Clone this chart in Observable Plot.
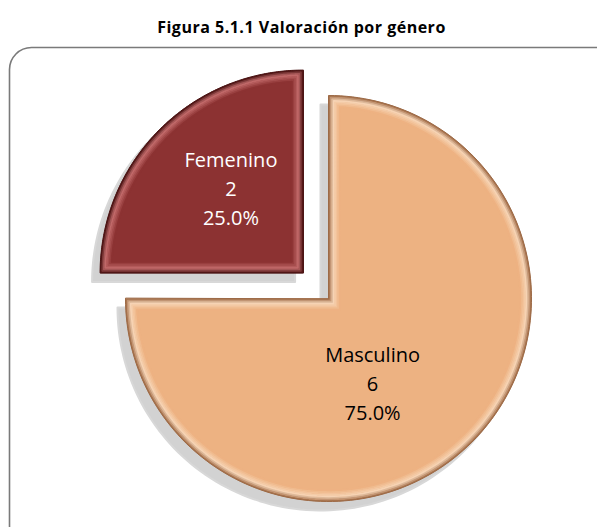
<!DOCTYPE html>
<html><head><meta charset="utf-8">
<script src="https://cdn.jsdelivr.net/npm/d3@7"></script>
<script src="https://cdn.jsdelivr.net/npm/@observablehq/plot@0.6"></script>
<style>
body{margin:0;background:#fff;font-family:"Open Sans",sans-serif}
#title{height:44px;box-sizing:border-box;padding-top:17px;text-align:center;font-weight:bold;font-size:16px;letter-spacing:0.5px;line-height:20px;color:#000;padding-left:6px}
#chart{height:483px;overflow:hidden}
</style></head><body>
<div id="title">Figura 5.1.1 Valoración por género</div>
<div id="chart"></div>
<script>
// ---- data ----
const categories = ["Masculino", "Femenino"];
const values = [6, 2];
const faceColors = ["#EDB282", "#8C3232"];
const rimColors = ["#9C6A47", "#4A1414"];
const lightColors = ["#FBE2CA", "#D88282"];
const textColors = ["#000000", "#FFFFFF"];
const explode = [0, 0.177];

// ---- geometry (unit radius) ----
const total = d3.sum(values);
const arcs = d3.pie().sort(null).value(d => d)(values);
const labelRadius = [0.464, 0.554];
const labelAngleShift = [17.1, 5.1]; // degrees added to slice mid-angle

function centerOf(i) {
  const m = (arcs[i].startAngle + arcs[i].endAngle) / 2;
  return [explode[i] * Math.sin(m), explode[i] * Math.cos(m)];
}
function wedge(i, delta = 0, dx = 0, dy = 0) {
  const a0 = arcs[i].startAngle, a1 = arcs[i].endAngle;
  const [cx, cy] = centerOf(i);
  const r = 1 - delta;
  const n0 = [Math.cos(a0), -Math.sin(a0)], n1 = [-Math.cos(a1), Math.sin(a1)];
  const det = n0[0] * n1[1] - n0[1] * n1[0];
  const px = delta * (n1[1] - n0[1]) / det, py = delta * (n0[0] - n1[0]) / det;
  const s = delta > 0 ? Math.asin(delta / r) : 0;
  const pts = [{k: categories[i], x: cx + px + dx, y: cy + py + dy}];
  const N = 160;
  for (let k = 0; k <= N; k++) {
    const a = a0 + s + (a1 - a0 - 2 * s) * k / N;
    pts.push({k: categories[i], x: cx + dx + r * Math.sin(a), y: cy + dy + r * Math.cos(a)});
  }
  return pts;
}
const labels = categories.map((c, i) => {
  const m = (arcs[i].startAngle + arcs[i].endAngle) / 2 + labelAngleShift[i] * Math.PI / 180;
  const [cx, cy] = centerOf(i);
  return {
    x: cx + labelRadius[i] * Math.sin(m),
    y: cy + labelRadius[i] * Math.cos(m),
    text: `${c}\n${values[i]}\n${(values[i] / total * 100).toFixed(1)}%`,
    color: textColors[i]
  };
});

const R = 203; // px per unit
const step = 1.5 / R;
const marks = [];
// drop shadows (offset down-left)
categories.forEach((c, i) => {
  marks.push(Plot.line(wedge(i, 0, -8 / R, -9 / R), {x: "x", y: "y", curve: "linear-closed", fill: "#d2d2d2", stroke: "#d8d8d8", strokeWidth: 2}));
});
categories.forEach((c, i) => {
  marks.push(Plot.line(wedge(i), {x: "x", y: "y", curve: "linear-closed", fill: faceColors[i], stroke: "none"}));
  // bevel: rim -> light -> face
  const toLight = d3.interpolateRgb(rimColors[i], lightColors[i]);
  const toFace = d3.interpolateRgb(lightColors[i], faceColors[i]);
  const nUp = 3, nDown = 5;
  for (let k = 0; k < nUp + nDown; k++) {
    const col = k < nUp ? toLight(k / nUp) : toFace((k - nUp + 1) / nDown);
    marks.push(Plot.line(wedge(i, (k + 0.5) * step), {x: "x", y: "y", curve: "linear-closed", fill: "none", stroke: col, strokeWidth: 1.8, strokeOpacity: 0.85}));
  }
  marks.push(Plot.line(wedge(i), {x: "x", y: "y", curve: "linear-closed", fill: "none", stroke: rimColors[i], strokeWidth: 1}));
});
marks.push(Plot.text(labels, {x: "x", y: "y", text: "text", fill: "color", fontSize: 20, lineHeight: 1.45, fontFamily: "Open Sans"}));
marks.push(Plot.frame({stroke: "#7a7a7a", strokeWidth: 1.6, rx: 22, insetRight: -20, insetBottom: -20}));

const W = 597, H = 483;
const cxPx = 328, cyPx = 254;
const plot = Plot.plot({
  width: W, height: H,
  marginLeft: 9, marginTop: 3, marginRight: 0, marginBottom: 0,
  x: {domain: [(9 - cxPx) / R, (W - cxPx) / R], axis: null},
  y: {domain: [-(H - cyPx) / R, (cyPx - 3) / R], axis: null},
  color: {type: "identity"},
  style: {background: "transparent", overflow: "hidden"},
  marks
});
document.getElementById("chart").appendChild(plot);
</script>
</body></html>
